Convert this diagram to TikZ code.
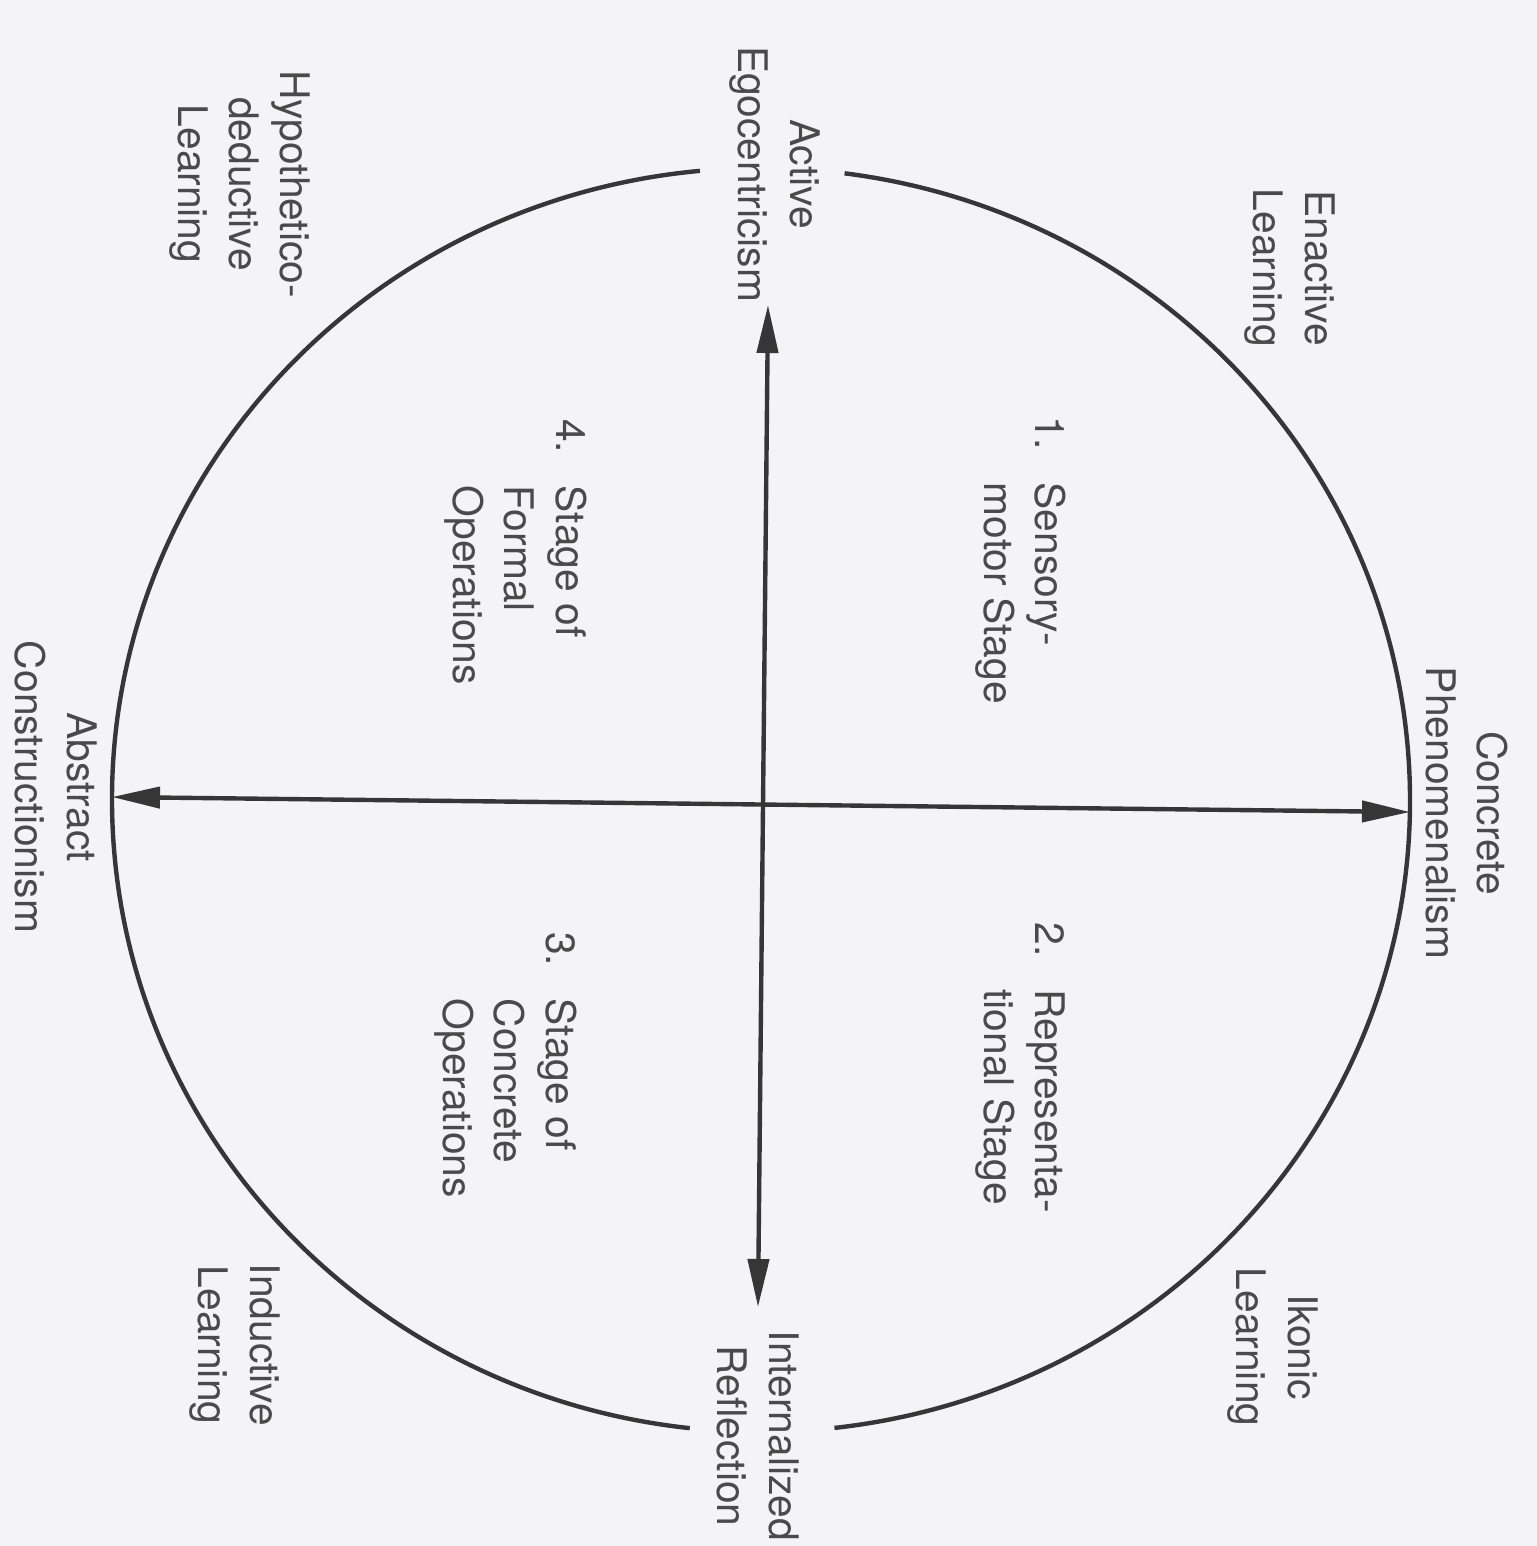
\documentclass[tikz,border=0pt]{standalone}
\usepackage{fontspec}
\setmainfont{TeX Gyre Heros}
\usepackage{xcolor}
\usepackage{tikz}
\usetikzlibrary{arrows.meta, positioning}
\definecolor{stagebg}{HTML}{F4F4F6}
\definecolor{stageink}{HTML}{4A4A4A}
\definecolor{stageline}{HTML}{363636}

\begin{document}
\begin{tikzpicture}[
    lbl/.style={font=\fontsize{11.6}{14.6}\selectfont, text=stageink, rotate=-90, align=center, inner sep=0pt},
    stagelbl/.style={lbl, align=left},
    axis/.style={stageline, line width=1.25pt, {Triangle[length=4.8mm, width=2.1mm]}-{Triangle[length=4.8mm, width=2.1mm]}},
    rim/.style={stageline, line width=1.25pt}
  ]
  \fill[stagebg] (0,0) rectangle (15.37,-15.46);
  \useasboundingbox (0,0) rectangle (15.37,-15.46);

  % circle, open at top and bottom
  \coordinate (c) at (7.61,-8.00);
  \draw[rim] ([shift={(95.4:6.49 and 6.32)}]c) arc[start angle=95.4, end angle=263.7, x radius=6.49, y radius=6.32];
  \draw[rim] ([shift={(-83.5:6.49 and 6.32)}]c) arc[start angle=-83.5, end angle=82.6, x radius=6.49, y radius=6.32];

  % axes
  \coordinate (top) at (7.68,-3.05);
  \coordinate (bot) at (7.58,-13.07);
  \coordinate (west) at (1.12,-7.97);
  \coordinate (east) at (14.10,-8.12);
  \draw[axis] (top) -- (bot);
  \draw[axis] (west) -- (east);

  % poles
  \node[lbl] (ego) at (7.75,-1.74) {Active\\Egocentricism};
  \node[lbl] (refl) at (7.58,-14.36) {Internalized\\Reflection};
  \node[lbl] (abstr) at (0.56,-7.87) {Abstract\\Constructionism};
  \node[lbl] (concr) at (14.67,-8.13) {Concrete\\Phenomenalism};

  % learning modes
  \node[lbl] (enact) at (12.90,-2.68) {Enactive\\Learning};
  \node[lbl] (hypo) at (2.40,-1.84) {Hypothetico-\\deductive\\Learning};
  \node[lbl] (ikon) at (12.73,-13.47) {Ikonic\\Learning};
  \node[lbl] (induct) at (2.35,-13.45) {Inductive\\Learning};

  % stages
  \node[stagelbl] (s1) at (10.20,-5.60) {\begin{tabular}{@{}l@{\hspace{0.8em}}l@{}}1. & Sensory-\\ & motor Stage\end{tabular}};
  \node[stagelbl] (s2) at (10.20,-10.68) {\begin{tabular}{@{}l@{\hspace{0.8em}}l@{}}2. & Representa-\\ & tional Stage\end{tabular}};
  \node[stagelbl] (s3) at (5.05,-10.65) {\begin{tabular}{@{}l@{\hspace{0.8em}}l@{}}3. & Stage of\\ & Concrete\\ & Operations\end{tabular}};
  \node[stagelbl] (s4) at (5.15,-5.52) {\begin{tabular}{@{}l@{\hspace{0.8em}}l@{}}4. & Stage of\\ & Formal\\ & Operations\end{tabular}};
\end{tikzpicture}
\end{document}
